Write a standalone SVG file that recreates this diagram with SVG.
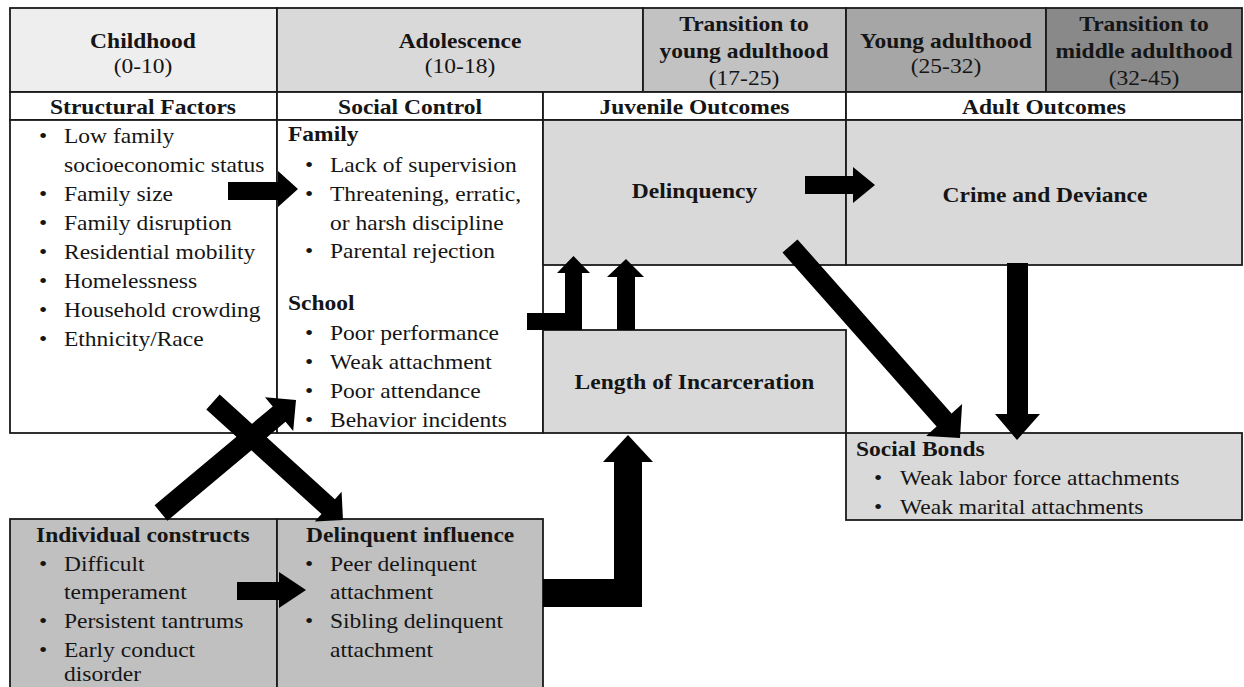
<svg xmlns="http://www.w3.org/2000/svg" width="1244" height="687" viewBox="0 0 1244 687">
<style>
.t{font-family:"Liberation Serif","Times New Roman",serif;font-size:21px;fill:#151515}
.b{font-weight:bold}
.c{text-anchor:middle}
.cell{stroke:#1a1a1a;stroke-width:1.8}
.arr{fill:#000}
</style>
<rect width="1244" height="687" fill="#ffffff"/>

<g id="header-childhood">
<rect class="cell" x="10" y="8" width="267" height="84" fill="#eeeeee"/>
<text class="t b c" transform="translate(143,48) scale(1.12,1)">Childhood</text>
<text class="t c" transform="translate(143,73) scale(1.12,1)">(0-10)</text>
</g>
<g id="header-adolescence">
<rect class="cell" x="277" y="8" width="366" height="84" fill="#d9d9d9"/>
<text class="t b c" transform="translate(460,48) scale(1.12,1)">Adolescence</text>
<text class="t c" transform="translate(460,73) scale(1.12,1)">(10-18)</text>
</g>
<g id="header-transition-young">
<rect class="cell" x="643" y="8" width="203" height="84" fill="#c2c2c2"/>
<text class="t b c" transform="translate(744,31) scale(1.12,1)">Transition to</text>
<text class="t b c" transform="translate(744,58) scale(1.12,1)">young adulthood</text>
<text class="t c" transform="translate(744,85) scale(1.12,1)">(17-25)</text>
</g>
<g id="header-young-adulthood">
<rect class="cell" x="846" y="8" width="200" height="84" fill="#a6a6a6"/>
<text class="t b c" transform="translate(946,48) scale(1.12,1)">Young adulthood</text>
<text class="t c" transform="translate(946,73) scale(1.12,1)">(25-32)</text>
</g>
<g id="header-transition-middle">
<rect class="cell" x="1046" y="8" width="196" height="84" fill="#898989"/>
<text class="t b c" transform="translate(1144,31) scale(1.12,1)">Transition to</text>
<text class="t b c" transform="translate(1144,58) scale(1.12,1)">middle adulthood</text>
<text class="t c" transform="translate(1144,85) scale(1.12,1)">(32-45)</text>
</g>

<g id="sub-structural">
<rect class="cell" x="10" y="92" width="267" height="28" fill="#ffffff"/>
<text class="t b c" transform="translate(143,114) scale(1.12,1)">Structural Factors</text>
</g>
<g id="sub-social-control">
<rect class="cell" x="277" y="92" width="266" height="28" fill="#ffffff"/>
<text class="t b c" transform="translate(410,114) scale(1.12,1)">Social Control</text>
</g>
<g id="sub-juvenile">
<rect class="cell" x="543" y="92" width="303" height="28" fill="#ffffff"/>
<text class="t b c" transform="translate(694.5,114) scale(1.12,1)">Juvenile Outcomes</text>
</g>
<g id="sub-adult">
<rect class="cell" x="846" y="92" width="396" height="28" fill="#ffffff"/>
<text class="t b c" transform="translate(1044,114) scale(1.12,1)">Adult Outcomes</text>
</g>

<g id="structural-factors">
<rect class="cell" x="10" y="120" width="267" height="313" fill="#ffffff"/>
<text class="t" transform="translate(39,143) scale(1.12,1)">•<tspan x="22.3">Low family</tspan></text>
<text class="t" transform="translate(64,172) scale(1.12,1)">socioeconomic status</text>
<text class="t" transform="translate(39,201) scale(1.12,1)">•<tspan x="22.3">Family size</tspan></text>
<text class="t" transform="translate(39,230) scale(1.12,1)">•<tspan x="22.3">Family disruption</tspan></text>
<text class="t" transform="translate(39,259) scale(1.12,1)">•<tspan x="22.3">Residential mobility</tspan></text>
<text class="t" transform="translate(39,288) scale(1.12,1)">•<tspan x="22.3">Homelessness</tspan></text>
<text class="t" transform="translate(39,317) scale(1.12,1)">•<tspan x="22.3">Household crowding</tspan></text>
<text class="t" transform="translate(39,346) scale(1.12,1)">•<tspan x="22.3">Ethnicity/Race</tspan></text>
</g>

<g id="social-control">
<rect class="cell" x="277" y="120" width="266" height="313" fill="#ffffff"/>
<text class="t b" transform="translate(288,141) scale(1.12,1)">Family</text>
<text class="t" transform="translate(305,172) scale(1.12,1)">•<tspan x="22.3">Lack of supervision</tspan></text>
<text class="t" transform="translate(305,201) scale(1.12,1)">•<tspan x="22.3">Threatening, erratic,</tspan></text>
<text class="t" transform="translate(330,230) scale(1.12,1)">or harsh discipline</text>
<text class="t" transform="translate(305,258) scale(1.12,1)">•<tspan x="22.3">Parental rejection</tspan></text>
<text class="t b" transform="translate(288,310) scale(1.12,1)">School</text>
<text class="t" transform="translate(305,340) scale(1.12,1)">•<tspan x="22.3">Poor performance</tspan></text>
<text class="t" transform="translate(305,369) scale(1.12,1)">•<tspan x="22.3">Weak attachment</tspan></text>
<text class="t" transform="translate(305,398) scale(1.12,1)">•<tspan x="22.3">Poor attendance</tspan></text>
<text class="t" transform="translate(305,427) scale(1.12,1)">•<tspan x="22.3">Behavior incidents</tspan></text>
</g>

<g id="delinquency">
<rect class="cell" x="543" y="120" width="303" height="145" fill="#d9d9d9"/>
<text class="t b c" transform="translate(694.5,198) scale(1.12,1)">Delinquency</text>
</g>
<g id="crime-deviance">
<rect class="cell" x="846" y="120" width="396" height="145" fill="#d9d9d9"/>
<text class="t b c" transform="translate(1045,202) scale(1.12,1)">Crime and Deviance</text>
</g>
<g id="incarceration">
<rect class="cell" x="543" y="330" width="303" height="103" fill="#d9d9d9"/>
<text class="t b c" transform="translate(694.5,389) scale(1.12,1)">Length of Incarceration</text>
</g>
<g id="social-bonds">
<rect class="cell" x="846" y="433" width="396" height="87" fill="#d9d9d9"/>
<text class="t b" transform="translate(856,456) scale(1.12,1)">Social Bonds</text>
<text class="t" transform="translate(874,485) scale(1.12,1)">•<tspan x="23.2">Weak labor force attachments</tspan></text>
<text class="t" transform="translate(874,514) scale(1.12,1)">•<tspan x="23.2">Weak marital attachments</tspan></text>
</g>
<g id="individual-constructs">
<rect class="cell" x="10" y="519" width="267" height="190" fill="#c0c0c0"/>
<text class="t b" transform="translate(36,542) scale(1.12,1)">Individual constructs</text>
<text class="t" transform="translate(39,571) scale(1.12,1)">•<tspan x="22.3">Difficult</tspan></text>
<text class="t" transform="translate(64,599) scale(1.12,1)">temperament</text>
<text class="t" transform="translate(39,628) scale(1.12,1)">•<tspan x="22.3">Persistent tantrums</tspan></text>
<text class="t" transform="translate(39,657) scale(1.12,1)">•<tspan x="22.3">Early conduct</tspan></text>
<text class="t" transform="translate(64,681) scale(1.12,1)">disorder</text>
</g>
<g id="delinquent-influence">
<rect class="cell" x="277" y="519" width="266" height="190" fill="#c0c0c0"/>
<text class="t b" transform="translate(306,542) scale(1.12,1)">Delinquent influence</text>
<text class="t" transform="translate(305,571) scale(1.12,1)">•<tspan x="22.3">Peer delinquent</tspan></text>
<text class="t" transform="translate(330,599) scale(1.12,1)">attachment</text>
<text class="t" transform="translate(305,628) scale(1.12,1)">•<tspan x="22.3">Sibling delinquent</tspan></text>
<text class="t" transform="translate(330,657) scale(1.12,1)">attachment</text>
</g>

<g id="connectors">
<polygon class="arr" points="228,182 278,182 278,171 298,189 278,207 278,200 228,200"/>
<polygon class="arr" points="237,582 279,582 279,572 306,590 279,608 279,600 237,600"/>
<polygon class="arr" points="805,176 853,176 853,167 875,185 853,203 853,194 805,194"/>
<polygon class="arr" points="1007,263 1028,263 1028,414 1040,414 1017,440 995,414 1007,414"/>
<polygon class="arr" points="527,313 565,313 565,273 557,273 573.5,256 590,273 582,273 582,330 527,330"/>
<polygon class="arr" points="617,330 617,277 607,277 626,259 644,277 635,277 635,330"/>
<polygon class="arr" points="543,579 614,579 614,462 603,462 628,435 653,462 642,462 642,607 543,607"/>
<polygon class="arr" points="797.5,239.4 951.6,413.4 962.1,404.1 960,438 926.1,435.9 936.6,426.6 782.5,252.6"/>
<polygon class="arr" points="154.6,505.3 272.7,406.4 265,397.2 296,400 293.2,431 285.5,421.8 167.4,520.7"/>
<polygon class="arr" points="219.7,394.6 334.9,499.2 341.6,491.8 343,520 314.8,521.4 321.5,514 206.3,409.4"/>
</g>
</svg>
